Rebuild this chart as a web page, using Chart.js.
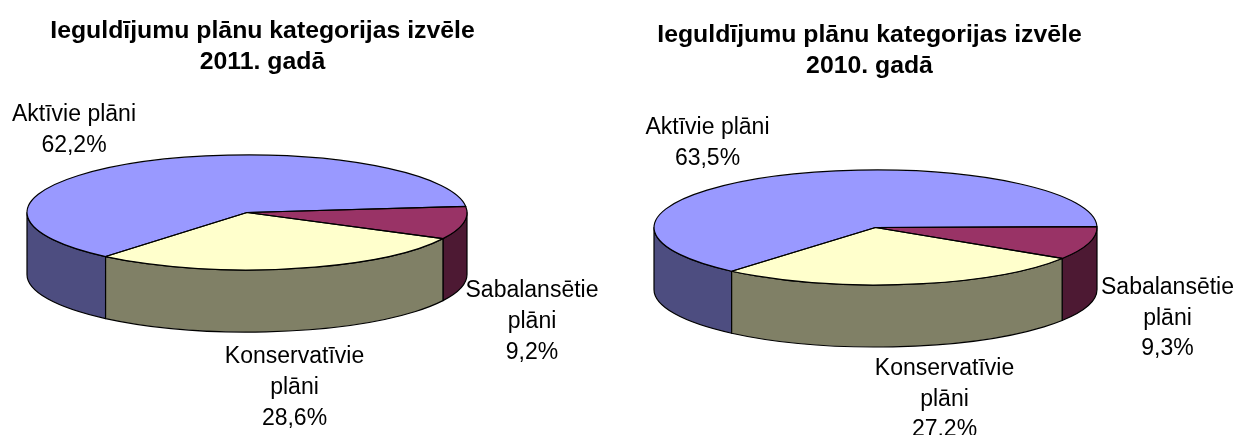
<!DOCTYPE html>
<html>
<head>
<meta charset="utf-8">
<script src="https://cdn.jsdelivr.net/npm/chart.js@4"></script>
<style>
html,body{margin:0;padding:0;background:#fff;width:1235px;height:435px;overflow:hidden}
canvas{position:absolute;display:block}
</style>
</head>
<body>
<canvas id="c2011" width="724" height="435" style="left:-100px;top:0"></canvas>
<canvas id="c2010" width="730" height="435" style="left:505px;top:0"></canvas>
<script>
const categories = ["Aktīvie plāni", "Sabalansētie plāni", "Konservatīvie plāni"];
const labelLines = [["Aktīvie plāni"], ["Sabalansētie", "plāni"], ["Konservatīvie", "plāni"]];
const values2011 = [62.2, 9.2, 28.6];
const values2010 = [63.5, 9.3, 27.2];
const title2011 = ["Ieguldījumu plānu kategorijas izvēle", "2011. gadā"];
const title2010 = ["Ieguldījumu plānu kategorijas izvēle", "2010. gadā"];
const topColors = ["#9999FF", "#993366", "#FFFFCC"];
const wallColors = ["#4D4D80", "#4D1933", "#808066"];

const FONT = '"Liberation Sans", Arial, sans-serif';

const pie3d = {
  id: 'pie3d',
  afterLayout(chart, args, o) {
    chart.titleBlock.left += o.titleDx;
    chart.titleBlock.right += o.titleDx;
  },
  beforeDatasetsDraw(chart, args, o) {
    const ctx = chart.ctx, arcs = chart.getDatasetMeta(0).data;
    const cx = arcs[0].x, cy = arcs[0].y, rx = arcs[0].outerRadius, ry = o.ry;
    ctx.save();
    ctx.strokeStyle = '#000'; ctx.lineWidth = 1.2; ctx.lineJoin = 'round';
    arcs.forEach((a, i) => {
      for (let k = -1; k <= 1; k++) {
        const s = Math.max(a.startAngle + k * 2 * Math.PI, 0);
        const e = Math.min(a.endAngle + k * 2 * Math.PI, Math.PI);
        if (e <= s) continue;
        ctx.beginPath();
        ctx.ellipse(cx, cy, rx, ry, 0, s, e);
        ctx.ellipse(cx, cy + o.depth, rx, ry, 0, e, s, true);
        ctx.closePath();
        ctx.fillStyle = wallColors[i];
        ctx.fill(); ctx.stroke();
      }
    });
    ctx.restore();
    ctx.save();
    ctx.translate(cx, cy); ctx.scale(1, ry / rx); ctx.translate(-cx, -cy);
  },
  afterDatasetsDraw(chart, args, o) {
    const ctx = chart.ctx, arcs = chart.getDatasetMeta(0).data;
    ctx.restore();
    const cx = arcs[0].x, cy = arcs[0].y, rx = arcs[0].outerRadius, ry = o.ry;
    ctx.save();
    ctx.strokeStyle = '#000'; ctx.lineWidth = 1.2; ctx.lineJoin = 'round';
    arcs.forEach(a => {
      ctx.beginPath();
      ctx.moveTo(cx, cy);
      ctx.ellipse(cx, cy, rx, ry, 0, a.startAngle, a.endAngle);
      ctx.closePath();
      ctx.stroke();
    });
    ctx.restore();
    // data labels, placed relative to the pie centre
    const vals = chart.data.datasets[0].data;
    ctx.save();
    ctx.fillStyle = '#000';
    ctx.font = o.labelSize + 'px ' + FONT;
    ctx.textAlign = 'center'; ctx.textBaseline = 'middle';
    labelLines.forEach((lines, i) => {
      const all = lines.concat([vals[i].toFixed(1).replace('.', ',') + '%']);
      const p = o.labelOffsets[i];
      all.forEach((t, j) => ctx.fillText(t, cx + p[0], cy + p[1] + j * o.labelLeading));
    });
    ctx.restore();
  }
};

function makePie(id, values, title, rotation, radius, titlePad, titleDx, padding, labelOffsets) {
  return new Chart(document.getElementById(id), {
    type: 'pie',
    data: {
      labels: categories,
      datasets: [{ data: values, backgroundColor: topColors, borderWidth: 0, radius: radius, clip: false }]
    },
    options: {
      responsive: false,
      animation: false,
      rotation: rotation,
      layout: { padding: padding },
      plugins: {
        legend: { display: false },
        tooltip: { enabled: false },
        title: {
          display: true, text: title, color: '#000',
          font: { family: FONT, size: 24.8, weight: 'bold', lineHeight: 1.27 },
          padding: titlePad
        },
        pie3d: { ry: 57.5, depth: 62, titleDx: titleDx, labelSize: 23, labelLeading: 30.7, labelOffsets: labelOffsets }
      }
    },
    plugins: [pie3d]
  });
}

makePie('c2011', values2011, title2011, 220, 220, { top: 15, bottom: 0 }, 15.5,
  { right: 30, bottom: 88 }, [[-173, -98], [285, 78.5], [47.5, 144.5]]);
makePie('c2010', values2010, title2010, 220.5, 221.5, { top: 19, bottom: 0 }, -6,
  { left: 11, bottom: 62 }, [[-168, -100], [292, 60], [69, 141]]);
</script>
</body>
</html>
